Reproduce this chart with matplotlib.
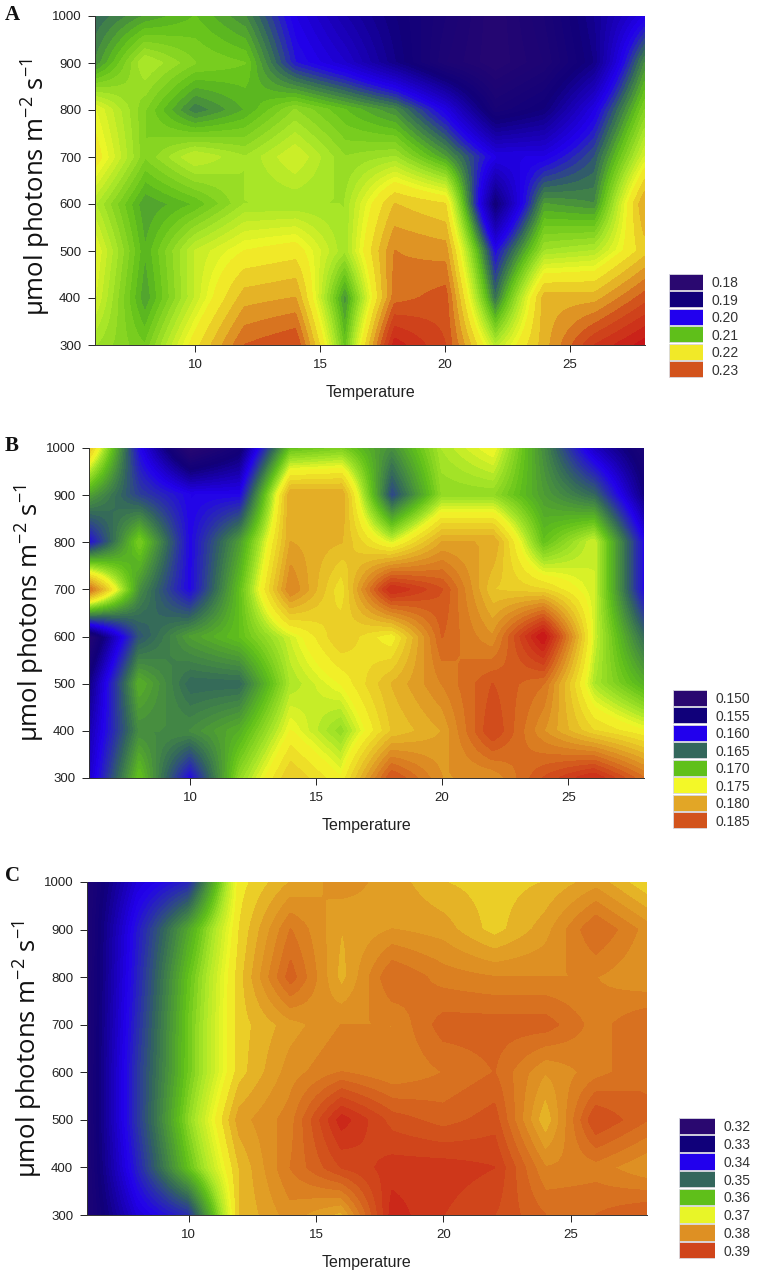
import numpy as np
import matplotlib
matplotlib.use('Agg')
import matplotlib.pyplot as plt
from matplotlib.colors import LinearSegmentedColormap, Normalize

temperature = [6, 8, 10, 12, 14, 16, 18, 20, 22, 24, 26, 28]
light = [300, 400, 500, 600, 700, 800, 900, 1000]

panel_a = [
    [.214, .211, .220, .229, .231, .210, .236, .231, .215, .224, .233, .238],
    [.217, .208, .216, .224, .225, .207, .228, .230, .205, .224, .224, .230],
    [.218, .209, .216, .219, .220, .214, .227, .226, .200, .214, .215, .222],
    [.215, .208, .210, .214, .214, .214, .223, .221, .189, .208, .207, .225],
    [.220, .212, .216, .214, .217, .213, .214, .208, .199, .199, .204, .217],
    [.218, .212, .206, .209, .213, .210, .207, .199, .187, .190, .199, .212],
    [.207, .215, .212, .211, .201, .197, .191, .185, .182, .185, .191, .207],
    [.205, .208, .210, .207, .199, .194, .190, .186, .182, .186, .192, .199],
]
panel_b = [
    [.158, .170, .160, .172, .178, .175, .185, .181, .181, .185, .188, .183],
    [.157, .167, .167, .169, .175, .172, .178, .180, .186, .181, .177, .175],
    [.155, .169, .165, .165, .173, .175, .179, .182, .185, .183, .173, .169],
    [.151, .164, .168, .170, .174, .178, .175, .184, .181, .190, .174, .165],
    [.183, .167, .160, .170, .182, .176, .188, .185, .178, .177, .174, .160],
    [.160, .171, .160, .168, .180, .179, .174, .180, .180, .170, .174, .160],
    [.168, .163, .160, .160, .180, .180, .163, .172, .172, .168, .165, .155],
    [.178, .160, .150, .154, .170, .171, .167, .173, .175, .167, .158, .153],
]
panel_c = [
    [.325, .338, .344, .375, .380, .376, .394, .391, .389, .385, .385, .387],
    [.325, .343, .360, .375, .383, .389, .392, .392, .391, .381, .382, .379],
    [.325, .345, .363, .378, .382, .394, .388, .386, .388, .375, .389, .385],
    [.325, .345, .361, .374, .380, .383, .381, .383, .385, .379, .382, .385],
    [.325, .344, .361, .374, .378, .381, .381, .386, .386, .386, .382, .385],
    [.325, .343, .360, .374, .386, .376, .385, .382, .381, .381, .381, .379],
    [.325, .342, .357, .373, .383, .377, .379, .378, .374, .378, .385, .380],
    [.325, .338, .343, .372, .377, .380, .378, .375, .374, .375, .378, .373],
]

legend_a = ['0.18', '0.19', '0.20', '0.21', '0.22', '0.23']
legend_b = ['0.150', '0.155', '0.160', '0.165', '0.170', '0.175', '0.180', '0.185']
legend_c = ['0.32', '0.33', '0.34', '0.35', '0.36', '0.37', '0.38', '0.39']

ramp_colors = ['#2a0870', '#10007a', '#2200ee', '#33665c', '#5fc01a', '#a8e628',
               '#f4f828', '#e2a626', '#d2531c', '#c81418']
anchors_a = [.180, .190, .200, .205, .210, .2145, .2190, .225, .230, .238]
anchors_b = [.150, .155, .160, .165, .170, .1730, .1750, .180, .185, .190]
anchors_c = [.320, .330, .340, .350, .360, .3650, .3710, .377, .388, .397]
fine_steps = [.001, .0005, .001]
coarse_steps = [.002, .001, .002]
fine_until = [.2190, .1750, .3710]

W, H = 758, 1281
fig = plt.figure(figsize=(W / 100, H / 100), dpi=100)
plt.rcParams['font.family'] = ['Liberation Sans', 'DejaVu Sans']
plt.rcParams['mathtext.default'] = 'regular'


def px_axes(x0, y0, x1, y1):
    return fig.add_axes([x0 / W, 1 - y1 / H, (x1 - x0) / W, (y1 - y0) / H])


def bilinear(z, n=8):
    xf = np.linspace(temperature[0], temperature[-1], (len(temperature) - 1) * n + 1)
    yf = np.linspace(light[0], light[-1], (len(light) - 1) * n + 1)
    rows = np.array([np.interp(xf, temperature, r) for r in z])
    out = np.array([np.interp(yf, light, c) for c in rows.T]).T
    return xf, yf, out


def draw(panel, legend, anchors, fine, coarse, until, letter, box, legbox, lab_x, lab_y, letter_y):
    lo, hi = anchors[0], anchors[-1]
    pos = [(a - lo) / (hi - lo) for a in anchors]
    cmap = LinearSegmentedColormap.from_list('ramp', list(zip(pos, ramp_colors)), N=512)
    norm = Normalize(lo, hi)
    ax = px_axes(*box)
    levels = np.concatenate([np.arange(lo - fine, until - fine / 2, fine),
                             np.arange(until, hi + 2 * coarse, coarse)])
    xf, yf, zf = bilinear(np.array(panel))
    cs = ax.contourf(xf, yf, zf, levels=levels, cmap=cmap, norm=norm)
    cs.set_edgecolor('face')
    ax.set_xlim(6, 28)
    ax.set_ylim(300, 1000)
    ax.set_xticks([10, 15, 20, 25])
    ax.set_yticks(light)
    for s in ('top', 'right'):
        ax.spines[s].set_visible(False)
    for s in ('left', 'bottom'):
        ax.spines[s].set_linewidth(0.7)
        ax.spines[s].set_color('#333333')
    ax.tick_params(length=5, width=0.7, labelsize=9.5, colors='#222222', pad=5)
    ax.set_xlabel('Temperature', fontsize=11.5, labelpad=10, color='#222222')
    fig.text(lab_x / W, 1 - lab_y / H,
             'µmol photons m$^{-2}$ s$^{-1}$', rotation=90, ha='center', va='center',
             fontsize=18.5, family='Open Sans', color='#111111')
    fig.text(5 / W, 1 - letter_y / H, letter, fontsize=15, fontweight='bold',
             family='Liberation Serif', va='center', color='#111111')

    lax = px_axes(*legbox)
    vals = [float(v) for v in legend]
    ypos = np.arange(len(legend))
    lax.barh(ypos, 1, height=0.92, color=cmap(norm(vals)), edgecolor='#d8d8e0', linewidth=0.6)
    lax.set_ylim(len(legend) - 0.5, -0.5)
    lax.set_xlim(0, 1)
    lax.set_xticks([])
    lax.yaxis.tick_right()
    lax.set_yticks(ypos)
    lax.set_yticklabels(legend)
    lax.tick_params(length=0, labelsize=10, colors='#333333', pad=6)
    for s in lax.spines.values():
        s.set_visible(False)


draw(panel_a, legend_a, anchors_a, fine_steps[0], coarse_steps[0], fine_until[0], 'A',
     (95, 16, 645, 345), (669, 273, 703, 378), 36, 187, 15)
draw(panel_b, legend_b, anchors_b, fine_steps[1], coarse_steps[1], fine_until[1], 'B',
     (89, 448, 644, 778), (673, 689, 707, 829), 30, 613, 446)
draw(panel_c, legend_c, anchors_c, fine_steps[2], coarse_steps[2], fine_until[2], 'C',
     (87, 882, 647, 1215), (679, 1117, 715, 1259), 28, 1049, 876)

fig.savefig('out.png', dpi=100)
